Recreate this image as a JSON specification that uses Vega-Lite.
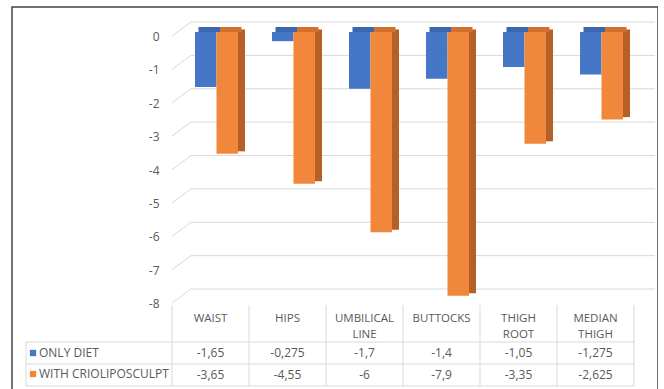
{
  "$schema": "https://vega.github.io/schema/vega-lite/v6.json",
  "width": 646,
  "height": 390,
  "autosize": {"type": "none"},
  "padding": {"left": 12, "top": 7, "right": 0, "bottom": 0},
  "background": "white",
  "config": {
    "view": {"stroke": "#444444", "strokeWidth": 1.5},
    "font": "Open Sans",
    "locale": {"number": {"decimal": ",", "thousands": ".", "grouping": [3], "currency": ["", ""], "minus": "-"}}
  },
  "datasets": {
    "measures": [
      {"zone": "WAIST", "group": "ONLY DIET", "change": -1.65},
      {"zone": "HIPS", "group": "ONLY DIET", "change": -0.275},
      {"zone": "UMBILICAL LINE", "group": "ONLY DIET", "change": -1.7},
      {"zone": "BUTTOCKS", "group": "ONLY DIET", "change": -1.4},
      {"zone": "THIGH ROOT", "group": "ONLY DIET", "change": -1.05},
      {"zone": "MEDIAN THIGH", "group": "ONLY DIET", "change": -1.275},
      {"zone": "WAIST", "group": "WITH CRIOLIPOSCULPT", "change": -3.65},
      {"zone": "HIPS", "group": "WITH CRIOLIPOSCULPT", "change": -4.55},
      {"zone": "UMBILICAL LINE", "group": "WITH CRIOLIPOSCULPT", "change": -6},
      {"zone": "BUTTOCKS", "group": "WITH CRIOLIPOSCULPT", "change": -7.9},
      {"zone": "THIGH ROOT", "group": "WITH CRIOLIPOSCULPT", "change": -3.35},
      {"zone": "MEDIAN THIGH", "group": "WITH CRIOLIPOSCULPT", "change": -2.625}
    ],
    "levels": [
      {"level": 0}, {"level": -1}, {"level": -2}, {"level": -3}, {"level": -4},
      {"level": -5}, {"level": -6}, {"level": -7}, {"level": -8}
    ]
  },
  "data": {"name": "measures"},
  "resolve": {"scale": {"y": "independent"}, "axis": {"y": "independent"}},
  "layer": [
    {
      "layer": [
        {
          "data": {"name": "levels"},
          "mark": {"type": "rule", "color": "#d9d9d9", "strokeWidth": 1, "xOffset": 19, "x2Offset": 21, "yOffset": -10},
          "encoding": {
            "x": {"datum": "WAIST", "type": "nominal", "bandPosition": 0,
              "scale": {"domain": ["WAIST", "HIPS", "UMBILICAL LINE", "BUTTOCKS", "THIGH ROOT", "MEDIAN THIGH"], "range": [160, 622], "paddingInner": 0, "paddingOuter": 0},
              "axis": null},
            "x2": {"datum": "MEDIAN THIGH", "bandPosition": 1},
            "y": {"field": "level", "type": "quantitative",
              "scale": {"domain": [-8, 0], "range": [292, 25], "nice": false, "zero": false},
              "axis": {"orient": "left", "offset": -150, "labelPadding": 3, "ticks": false, "domain": false, "grid": false,
                "values": [0, -1, -2, -3, -4, -5, -6, -7, -8], "labelOffset": 4.5, "labelFontSize": 12, "labelColor": "#595959", "title": null}}
          }
        },
        {
          "data": {"name": "levels"},
          "mark": {"type": "rule", "color": "#d9d9d9", "strokeWidth": 1, "x2Offset": 19, "yOffset": 4, "y2Offset": -10},
          "encoding": {
            "x": {"datum": "WAIST", "type": "nominal", "bandPosition": 0},
            "x2": {"datum": "WAIST", "bandPosition": 0},
            "y": {"field": "level", "type": "quantitative"},
            "y2": {"field": "level"}
          }
        },
        {
          "transform": [{"filter": "datum.group === 'ONLY DIET'"}],
          "mark": {"type": "bar", "width": 21.5, "xOffset": -4.75},
          "encoding": {
            "x": {"field": "zone", "type": "nominal", "sort": null},
            "y": {"field": "change", "type": "quantitative"},
            "y2": {"datum": 0},
            "color": {"field": "group", "type": "nominal",
              "scale": {"domain": ["ONLY DIET", "WITH CRIOLIPOSCULPT"], "range": ["#4677c6", "#f0873a"]},
              "legend": {"orient": "none", "legendX": 15, "legendY": 340, "title": null, "symbolType": "square", "symbolSize": 40,
                "symbolStrokeWidth": 0, "labelFontSize": 12, "labelColor": "#595959", "rowPadding": 9, "labelOffset": 0, "padding": 0}}
          }
        },
        {
          "transform": [{"filter": "datum.group === 'ONLY DIET'"}],
          "mark": {"type": "tick", "orient": "horizontal", "size": 21.5, "thickness": 5, "xOffset": -1.25, "yOffset": -2.5, "color": "#3b67b0", "opacity": 1},
          "encoding": {
            "x": {"field": "zone", "type": "nominal"},
            "y": {"datum": 0, "type": "quantitative"}
          }
        },
        {
          "transform": [{"filter": "datum.group === 'WITH CRIOLIPOSCULPT'"}],
          "mark": {"type": "bar", "width": 21.5, "xOffset": 16.75},
          "encoding": {
            "x": {"field": "zone", "type": "nominal"},
            "y": {"field": "change", "type": "quantitative"},
            "y2": {"datum": 0},
            "color": {"field": "group", "type": "nominal"}
          }
        },
        {
          "transform": [{"filter": "datum.group === 'WITH CRIOLIPOSCULPT'"}],
          "mark": {"type": "bar", "width": 7, "xOffset": 31, "yOffset": -2.5, "y2Offset": -2.5, "color": "#b65f27"},
          "encoding": {
            "x": {"field": "zone", "type": "nominal"},
            "y": {"field": "change", "type": "quantitative"},
            "y2": {"datum": 0}
          }
        },
        {
          "transform": [{"filter": "datum.group === 'WITH CRIOLIPOSCULPT'"}],
          "mark": {"type": "tick", "orient": "horizontal", "size": 21.5, "thickness": 5, "xOffset": 20.25, "yOffset": -2.5, "color": "#d4702d", "opacity": 1},
          "encoding": {
            "x": {"field": "zone", "type": "nominal"},
            "y": {"datum": 0, "type": "quantitative"}
          }
        }
      ]
    },
    {
      "layer": [
        {
          "transform": [{"filter": "datum.zone === 'WAIST'"}],
          "mark": {"type": "rule", "color": "#d9d9d9", "strokeWidth": 1, "xOffset": -146},
          "encoding": {
            "x": {"datum": "WAIST", "type": "nominal", "bandPosition": 0},
            "x2": {"datum": "MEDIAN THIGH", "bandPosition": 1},
            "y": {"field": "group", "type": "nominal", "bandPosition": 0,
              "scale": {"domain": ["ONLY DIET", "WITH CRIOLIPOSCULPT"], "range": [335, 379], "paddingInner": 0, "paddingOuter": 0},
              "axis": null}
          }
        },
        {
          "transform": [{"filter": "datum.zone === 'WAIST' && datum.group === 'WITH CRIOLIPOSCULPT'"}],
          "mark": {"type": "rule", "color": "#d9d9d9", "strokeWidth": 1, "xOffset": -146},
          "encoding": {
            "x": {"datum": "WAIST", "type": "nominal", "bandPosition": 0},
            "x2": {"datum": "MEDIAN THIGH", "bandPosition": 1},
            "y": {"field": "group", "type": "nominal", "bandPosition": 1}
          }
        },
        {
          "transform": [{"filter": "datum.group === 'ONLY DIET'"}],
          "mark": {"type": "rule", "color": "#d9d9d9", "strokeWidth": 1, "yOffset": -37},
          "encoding": {
            "x": {"field": "zone", "type": "nominal", "bandPosition": 0},
            "y": {"datum": "ONLY DIET", "type": "nominal", "bandPosition": 0},
            "y2": {"datum": "WITH CRIOLIPOSCULPT", "bandPosition": 1}
          }
        },
        {
          "transform": [{"filter": "datum.group === 'ONLY DIET' && datum.zone === 'MEDIAN THIGH'"}],
          "mark": {"type": "rule", "color": "#d9d9d9", "strokeWidth": 1, "yOffset": -37},
          "encoding": {
            "x": {"field": "zone", "type": "nominal", "bandPosition": 1},
            "y": {"datum": "ONLY DIET", "type": "nominal", "bandPosition": 0},
            "y2": {"datum": "WITH CRIOLIPOSCULPT", "bandPosition": 1}
          }
        },
        {
          "transform": [{"filter": "datum.group === 'ONLY DIET' && datum.zone === 'WAIST'"}],
          "mark": {"type": "rule", "color": "#d9d9d9", "strokeWidth": 1, "xOffset": -146},
          "encoding": {
            "x": {"field": "zone", "type": "nominal", "bandPosition": 0},
            "y": {"datum": "ONLY DIET", "type": "nominal", "bandPosition": 0},
            "y2": {"datum": "WITH CRIOLIPOSCULPT", "bandPosition": 1}
          }
        },
        {
          "transform": [{"filter": "datum.group === 'ONLY DIET'"}],
          "mark": {"type": "text", "lineBreak": " ", "lineHeight": 16, "align": "center", "baseline": "alphabetic", "fontSize": 11.5, "color": "#595959", "yOffset": -20},
          "encoding": {
            "x": {"field": "zone", "type": "nominal"},
            "y": {"datum": "ONLY DIET", "type": "nominal", "bandPosition": 0},
            "text": {"field": "zone"}
          }
        },
        {
          "mark": {"type": "text", "align": "center", "baseline": "middle", "fontSize": 12, "color": "#595959"},
          "encoding": {
            "x": {"field": "zone", "type": "nominal"},
            "y": {"field": "group", "type": "nominal"},
            "text": {"field": "change", "type": "quantitative", "format": ".4~g"}
          }
        }
      ]
    }
  ]
}
